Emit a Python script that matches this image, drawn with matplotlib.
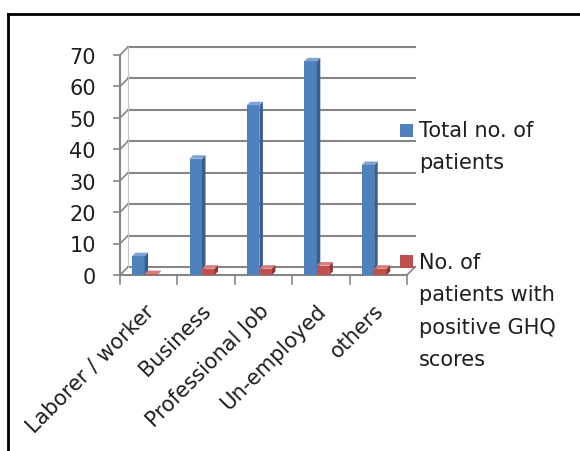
import matplotlib
matplotlib.use("Agg")
import matplotlib.pyplot as plt
from matplotlib.patches import Polygon, Rectangle
from matplotlib.lines import Line2D

categories = ["Laborer / worker", "Business", "Professional Job", "Un-employed", "others"]
total_patients = [6, 37, 54, 68, 35]
positive_ghq = [0.3, 2, 2, 3, 2]
series_labels = ["Total no. of\npatients", "No. of\npatients with\npositive GHQ\nscores"]
yticks = list(range(0, 80, 10))

# Excel-2007 style colours: front, side, top
BLUE = ("#4F81BD", "#37608F", "#7FA4D3")
RED = ("#C0504D", "#8E3331", "#D67C79")
GRID = "#868686"
TEXT = "#1E1E1E"
FS = 15

fig = plt.figure(figsize=(5.8, 4.51), dpi=100)
ax = fig.add_axes([120 / 580, 1 - 275 / 451, 287 / 580, 220 / 451])
ax.set_xlim(0, len(categories))
ax.set_ylim(0, 70)
ax.axis("off")

# pixel -> data conversions for the pseudo-3D depth
px_x = len(categories) / 287
px_y = 70 / 220
wall_dx, wall_dy = 8 * px_x, 8 * px_y
bar_dx, bar_dy = 3.5 * px_x, 3.5 * px_y
n = len(categories)

# back wall gridlines and side wall connectors
for v in yticks:
    ax.add_line(Line2D([wall_dx, n + wall_dx], [v + wall_dy, v + wall_dy],
                       color=GRID, lw=1.5, clip_on=False))
    ax.add_line(Line2D([0, wall_dx], [v, v + wall_dy], color=GRID, lw=1.2, clip_on=False))
    ax.add_line(Line2D([-6 * px_x, 0], [v, v], color=GRID, lw=1.2, clip_on=False))
    ax.text(-24 * px_x, v - 0.9, str(v), ha="right", va="center",
            fontsize=FS, color=TEXT)

# vertical axis, floor edges and category ticks
ax.add_line(Line2D([0, 0], [0, 70], color=GRID, lw=1.5, clip_on=False))
ax.add_line(Line2D([wall_dx, wall_dx], [wall_dy, 70 + wall_dy], color="#C4C4C4", lw=0.8, clip_on=False))
ax.add_line(Line2D([0, n], [0, 0], color=GRID, lw=1.5, clip_on=False))
ax.add_line(Line2D([n, n + wall_dx], [0, wall_dy], color=GRID, lw=1.2, clip_on=False))
for i in range(n + 1):
    ax.add_line(Line2D([i, i], [0, -9 * px_y], color=GRID, lw=1.2, clip_on=False))

bar_w = 12.5 * px_x
offsets = [-16.6 * px_x, -16.6 * px_x + bar_w]
centers = [i + 0.5 for i in range(n)]


def draw_series(values, offset, colors):
    xs = [c + offset for c in centers]
    bars = ax.bar(xs, values, width=bar_w, align="edge", color=colors[0],
                  edgecolor="none", zorder=3, clip_on=False)
    for b in bars:
        x0, x1, h = b.get_x(), b.get_x() + b.get_width(), b.get_height()
        side = [(x1, 0), (x1 + bar_dx, bar_dy), (x1 + bar_dx, h + bar_dy), (x1, h)]
        top = [(x0, h), (x0 + bar_dx, h + bar_dy), (x1 + bar_dx, h + bar_dy), (x1, h)]
        ax.add_patch(Polygon(side, closed=True, fc=colors[1], ec="none", zorder=3, clip_on=False))
        ax.add_patch(Polygon(top, closed=True, fc=colors[2], ec="none", zorder=3, clip_on=False))


draw_series(total_patients, offsets[0], BLUE)
draw_series(positive_ghq, offsets[1], RED)

# rotated category labels
for c, name in zip(centers, categories):
    ax.text(c - 5 * px_x, -26 * px_y, name, rotation=45, ha="right", va="top",
            rotation_mode="anchor", fontsize=FS, color=TEXT)

# legend, placed by hand to the right of the plot
for (sq_y, txt_y), label, col in zip([(124, 121), (255, 253)], series_labels, [BLUE[0], RED[0]]):
    fig.add_artist(Rectangle((400 / 580, 1 - (sq_y + 13) / 451), 12.5 / 580, 13.5 / 451,
                             transform=fig.transFigure, fc=col, ec="none"))
    fig.text(419 / 580, 1 - txt_y / 451, label, ha="left", va="top",
             fontsize=FS, color=TEXT, linespacing=1.78)

# outer frame (top and left edges)
fig.add_artist(Line2D([8 / 580, 1], [1 - 14 / 451, 1 - 14 / 451], transform=fig.transFigure,
                      color="black", lw=2))
fig.add_artist(Line2D([8 / 580, 8 / 580], [0, 1 - 14 / 451], transform=fig.transFigure,
                      color="black", lw=2))

fig.savefig("out.png", dpi=100)
